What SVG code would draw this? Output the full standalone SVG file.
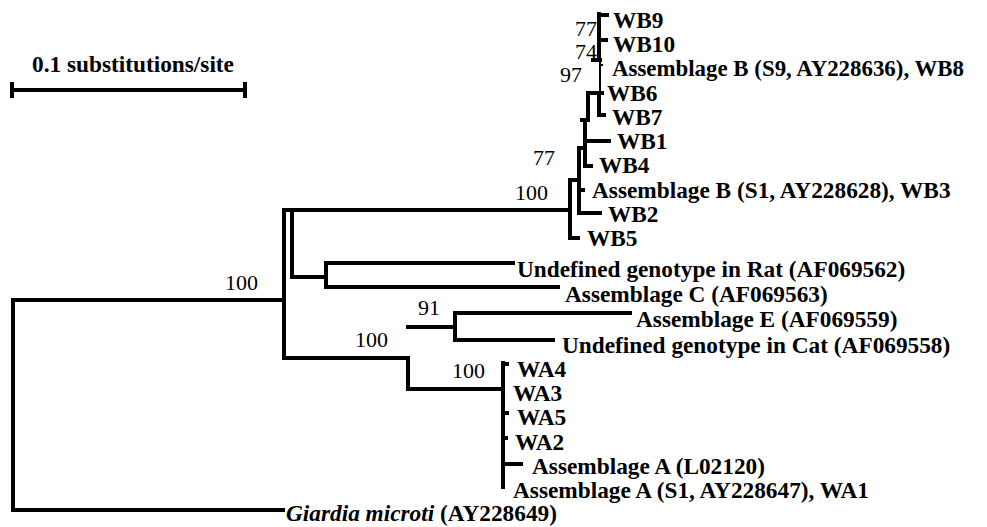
<svg xmlns="http://www.w3.org/2000/svg" width="987" height="527" viewBox="0 0 987 527">
<style>
.br{stroke:#000;stroke-width:4;fill:none;stroke-linecap:square;stroke-linejoin:miter}
.th{stroke:#000;stroke-width:2;fill:none}
.lab{font-family:"Liberation Serif","Times New Roman",serif;font-weight:bold;font-size:23.3px;fill:#000}
.bs{font-family:"Liberation Serif","Times New Roman",serif;font-size:22px;fill:#000;text-anchor:end}
</style>
<rect width="987" height="527" fill="#fff"/>
<g id="scale">
<text class="lab" x="133" y="72" text-anchor="middle" font-size="24">0.1 substitutions/site</text>
<path class="br" d="M12,90 H245"/>
<path class="br" d="M12,84 V96 M245,84 V96"/>
</g>
<g id="connectors">
<path class="br" d="M284,300 H13 V510 H283"/>
<path class="br" d="M292,210 H284 V358"/>
<path class="br" d="M570,210 H292 V277 H326"/>
<path class="br" d="M513,263 H326 V287 H558"/>
<path class="br" d="M284,358 H408 V389 H503"/>
<path class="br" d="M408,327 H455 V313 H630"/>
<path class="br" d="M455,313 V340 H553"/>
<path class="br" d="M503,363 V487"/>
<path class="br" d="M503,364 H507 M503,413 H507 M503,438 H506 M503,464 H521"/>
<path class="br" d="M599,14 V60 M599,15 H607 M599,40 H606 M593,60 H600"/>
<path class="th" d="M600,60 V93 M600,65 H603"/>
<path class="br" d="M599,93 V115 H604"/>
<path class="br" d="M588,93 H602 M588,93 V120 H582"/>
<path class="br" d="M585,120 V166 H591 M585,141 H609"/>
<path class="br" d="M579,148 H585 M579,148 V213 H600 M579,190 H583"/>
<path class="br" d="M570,180 H579 M570,180 V238 H578"/>
</g>
<g id="bootstrap">
<text class="bs" x="597" y="36">77</text>
<text class="bs" x="597" y="59">74</text>
<text class="bs" x="582" y="82">97</text>
<text class="bs" x="555" y="165">77</text>
<text class="bs" x="548" y="200">100</text>
<text class="bs" x="258" y="290">100</text>
<text class="bs" x="440" y="315">91</text>
<text class="bs" x="388" y="347">100</text>
<text class="bs" x="485" y="378">100</text>
</g>
<g id="WB9"><text class="lab" x="613" y="28">WB9</text></g>
<g id="WB10"><text class="lab" x="613" y="52.2">WB10</text></g>
<g id="AsmB_S9"><text class="lab" x="612" y="76.4" textLength="352" lengthAdjust="spacingAndGlyphs">Assemblage B (S9, AY228636), WB8</text></g>
<g id="WB6"><text class="lab" x="607" y="100.7">WB6</text></g>
<g id="WB7"><text class="lab" x="612" y="124.9">WB7</text></g>
<g id="WB1"><text class="lab" x="617" y="149.1">WB1</text></g>
<g id="WB4"><text class="lab" x="599" y="173.3">WB4</text></g>
<g id="AsmB_S1"><text class="lab" x="592" y="197.6">Assemblage B (S1, AY228628), WB3</text></g>
<g id="WB2"><text class="lab" x="608" y="221.8">WB2</text></g>
<g id="WB5"><text class="lab" x="587" y="246">WB5</text></g>
<g id="Rat"><text class="lab" x="517" y="277">Undefined genotype in Rat (AF069562)</text></g>
<g id="AsmC"><text class="lab" x="565" y="302">Assemblage C (AF069563)</text></g>
<g id="AsmE"><text class="lab" x="636" y="327">Assemblage E (AF069559)</text></g>
<g id="Cat"><text class="lab" x="562" y="353">Undefined genotype in Cat (AF069558)</text></g>
<g id="WA4"><text class="lab" x="517" y="377">WA4</text></g>
<g id="WA3"><text class="lab" x="513" y="401.2">WA3</text></g>
<g id="WA5"><text class="lab" x="517" y="425.4">WA5</text></g>
<g id="WA2"><text class="lab" x="515" y="449.6">WA2</text></g>
<g id="AsmA_L"><text class="lab" x="532" y="473.8">Assemblage A (L02120)</text></g>
<g id="AsmA_S1"><text class="lab" x="513" y="498">Assemblage A (S1, AY228647), WA1</text></g>
<g id="Giardia"><text class="lab" x="286" y="521"><tspan font-style="italic">Giardia microti</tspan> (AY228649)</text></g>
</svg>
